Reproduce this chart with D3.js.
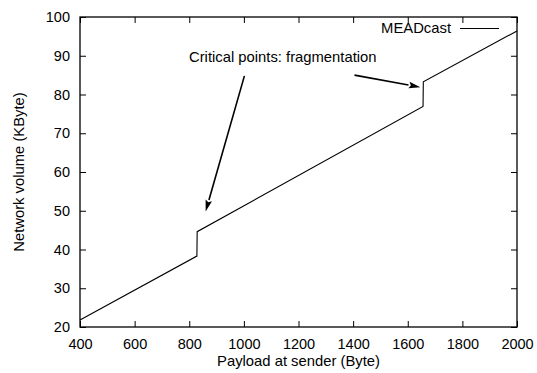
<!DOCTYPE html>
<html>
<head>
<meta charset="utf-8">
<script src="https://cdn.jsdelivr.net/npm/d3@7"></script>
<style>
body { margin: 0; background: #fff; }
text { font-family: "Liberation Sans", Arial, sans-serif; fill: #000; }
</style>
</head>
<body>
<div id="chart"></div>
<script>
// data
var payload = [400, 828, 829, 1656, 1657, 2000];
var volume  = [21.8, 38.3, 44.6, 76.9, 83.3, 96.4];
var xTicks = [400, 600, 800, 1000, 1200, 1400, 1600, 1800, 2000];
var yTicks = [20, 30, 40, 50, 60, 70, 80, 90, 100];
var seriesName = "MEADcast";
var noteText = "Critical points: fragmentation";
// arrows: [fromX, fromY, toX, toY] in data units
var arrows = [[1002, 84.8, 860, 49.8], [1405, 85, 1646, 81.9]];

var width = 537, height = 373;
var margin = { top: 17, right: 20, bottom: 46, left: 80 };

var svg = d3.select("#chart").append("svg")
	.attr("width", width)
	.attr("height", height);

var x = d3.scaleLinear()
	.domain([400, 2000])
	.range([margin.left, width - margin.right]);

var y = d3.scaleLinear()
	.domain([20, 100])
	.range([height - margin.bottom, margin.top]);

var tickLen = 6;

// inward ticks, bottom + mirrored top
svg.append("g")
	.attr("transform", "translate(0," + y(20) + ")")
	.call(d3.axisBottom(x).tickValues(xTicks).tickSize(-tickLen).tickPadding(12).tickFormat(d3.format("d")))
	.call(function(g)
	{
		g.select(".domain").remove();
		g.selectAll("text").style("font-size", "14.5px").attr("dy", "0.71em");
	});

svg.append("g")
	.attr("transform", "translate(0," + y(100) + ")")
	.call(d3.axisTop(x).tickValues(xTicks).tickSize(-tickLen).tickFormat(""))
	.call(function(g) { g.select(".domain").remove(); });

svg.append("g")
	.attr("transform", "translate(" + x(400) + ",0)")
	.call(d3.axisLeft(y).tickValues(yTicks).tickSize(-tickLen).tickPadding(10))
	.call(function(g)
	{
		g.select(".domain").remove();
		g.selectAll("text").style("font-size", "14.5px");
	});

svg.append("g")
	.attr("transform", "translate(" + x(2000) + ",0)")
	.call(d3.axisRight(y).tickValues(yTicks).tickSize(-tickLen).tickFormat(""))
	.call(function(g) { g.select(".domain").remove(); });

svg.selectAll(".tick line").attr("stroke", "#000");

// frame
svg.append("rect")
	.attr("x", x(400))
	.attr("y", y(100))
	.attr("width", x(2000) - x(400))
	.attr("height", y(20) - y(100))
	.attr("fill", "none")
	.attr("stroke", "#000")
	.attr("stroke-width", 1.3);

// series
var line = d3.line()
	.x(function(d) { return x(d[0]); })
	.y(function(d) { return y(d[1]); });

svg.append("path")
	.datum(d3.zip(payload, volume))
	.attr("d", line)
	.attr("fill", "none")
	.attr("stroke", "#000")
	.attr("stroke-width", 1.1);

// legend
svg.append("text")
	.attr("x", 451)
	.attr("y", 33)
	.attr("text-anchor", "end")
	.style("font-size", "14.8px")
	.text(seriesName);

svg.append("line")
	.attr("x1", 460).attr("x2", 499)
	.attr("y1", 28.5).attr("y2", 28.5)
	.attr("stroke", "#000")
	.attr("stroke-width", 1.1);

// annotation
svg.append("text")
	.attr("x", 189)
	.attr("y", 62)
	.style("font-size", "14.8px")
	.text(noteText);

arrows.forEach(function(a)
{
	var x1 = x(a[0]), y1 = y(a[1]), x2 = x(a[2]), y2 = y(a[3]);
	var ang = Math.atan2(y2 - y1, x2 - x1);
	var len = 12, spread = 0.28;
	var bx = x2 - len * Math.cos(ang), by = y2 - len * Math.sin(ang);
	svg.append("line")
		.attr("x1", x1).attr("y1", y1)
		.attr("x2", bx).attr("y2", by)
		.attr("stroke", "#000")
		.attr("stroke-width", 1.6);
	var p = d3.path();
	p.moveTo(x2, y2);
	p.lineTo(x2 - len * Math.cos(ang - spread), y2 - len * Math.sin(ang - spread));
	p.lineTo(x2 - len * 0.8 * Math.cos(ang), y2 - len * 0.8 * Math.sin(ang));
	p.lineTo(x2 - len * Math.cos(ang + spread), y2 - len * Math.sin(ang + spread));
	p.closePath();
	svg.append("path").attr("d", p.toString()).attr("fill", "#000");
});

// axis titles
svg.append("text")
	.attr("x", (x(400) + x(2000)) / 2)
	.attr("y", 366)
	.attr("text-anchor", "middle")
	.style("font-size", "14.8px")
	.text("Payload at sender (Byte)");

svg.append("text")
	.attr("transform", "translate(24," + (y(20) + y(100)) / 2 + ") rotate(-90)")
	.attr("text-anchor", "middle")
	.style("font-size", "14.8px")
	.text("Network volume (KByte)");
</script>
</body>
</html>
